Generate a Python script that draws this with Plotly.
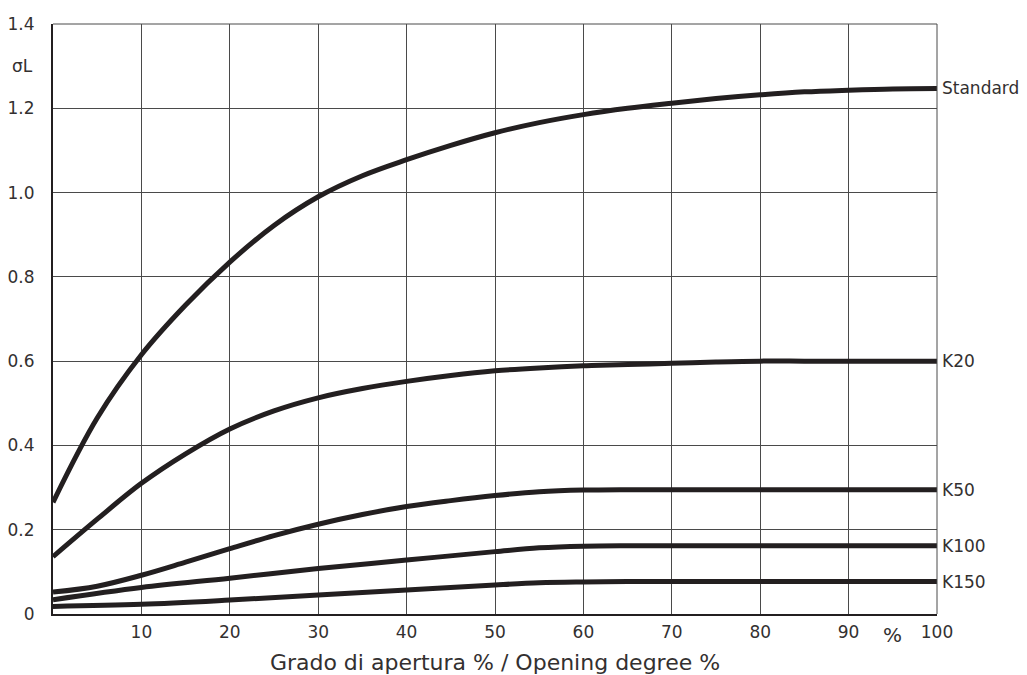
import plotly.graph_objects as go

# Data
x_std = [0, 5, 10, 15, 20, 25, 30, 35, 40, 45, 50, 55, 60, 65, 70, 75, 80, 85, 90, 95, 100]
y_std = [0.265, 0.465, 0.615, 0.733, 0.835, 0.922, 0.99, 1.04, 1.078, 1.112, 1.142, 1.166, 1.185, 1.2, 1.212, 1.223, 1.232, 1.239, 1.243, 1.246, 1.247]

x_k20 = [0, 5, 10, 15, 20, 25, 30, 35, 40, 45, 50, 55, 60, 65, 70, 75, 80, 85, 90, 95, 100]
y_k20 = [0.136, 0.225, 0.31, 0.38, 0.439, 0.482, 0.513, 0.535, 0.552, 0.566, 0.577, 0.584, 0.589, 0.592, 0.595, 0.598, 0.6, 0.6, 0.6, 0.6, 0.6]

x_k50 = [0, 5, 10, 15, 20, 25, 30, 35, 40, 45, 50, 55, 60, 65, 70, 80, 90, 100]
y_k50 = [0.052, 0.066, 0.092, 0.123, 0.155, 0.186, 0.213, 0.236, 0.255, 0.269, 0.281, 0.290, 0.294, 0.295, 0.295, 0.295, 0.295, 0.295]

x_k100 = [0, 10, 20, 30, 40, 50, 55, 60, 65, 70, 80, 90, 100]
y_k100 = [0.034, 0.063, 0.085, 0.108, 0.128, 0.148, 0.157, 0.161, 0.162, 0.162, 0.162, 0.162, 0.162]

x_k150 = [0, 10, 20, 30, 40, 50, 55, 60, 65, 70, 80, 90, 100]
y_k150 = [0.018, 0.023, 0.033, 0.045, 0.057, 0.069, 0.074, 0.076, 0.077, 0.077, 0.077, 0.077, 0.077]

series = [
    ("Standard", x_std, y_std),
    ("K20", x_k20, y_k20),
    ("K50", x_k50, y_k50),
    ("K100", x_k100, y_k100),
    ("K150", x_k150, y_k150),
]

x_tickvals = [10, 20, 30, 40, 50, 60, 70, 80, 90, 100]
x_ticktext = ["10", "20", "30", "40", "50", "60", "70", "80", "90", "100"]
y_tickvals = [0, 0.2, 0.4, 0.6, 0.8, 1.0, 1.2, 1.4]
y_ticktext = ["0", "0.2", "0.4", "0.6", "0.8", "1.0", "1.2", "1.4"]

FONT = "DejaVu Sans, sans-serif"
TXT = "#333030"
LINE = "#231f20"
GRID = "#4a4a4a"

fig = go.Figure()
for name, xs, ys in series:
    fig.add_trace(go.Scatter(
        x=xs, y=ys, mode="lines", name=name,
        line=dict(color=LINE, width=5, shape="spline", smoothing=1.0),
        showlegend=False, cliponaxis=False,
    ))
    fig.add_annotation(
        x=100, y=ys[-1], text=name, showarrow=False,
        xanchor="left", yanchor="middle", xshift=3,
        font=dict(family=FONT, size=17, color=TXT),
    )

fig.add_annotation(x=95, y=0, text="%", showarrow=False, yanchor="top", yshift=-7,
                   font=dict(family=FONT, size=20, color=TXT))
fig.add_annotation(x=0, y=1.3, text="σL", showarrow=False, xanchor="right",
                   xshift=-18, font=dict(family=FONT, size=17, color=TXT))

fig.update_layout(
    width=1019, height=667,
    margin=dict(l=45, r=90, t=16, b=61, autoexpand=False),
    paper_bgcolor="white", plot_bgcolor="white",
    font=dict(family=FONT, size=16, color=TXT),
    xaxis=dict(
        range=[0, 100], tickvals=x_tickvals, ticktext=x_ticktext,
        showgrid=True, gridcolor=GRID, gridwidth=1,
        showline=True, linecolor=LINE, linewidth=2, mirror=False,
        zeroline=False, ticks="", ticklen=0, automargin=False,
        ticklabelstandoff=2, tickfont=dict(size=17),
        title=dict(text="Grado di apertura % / Opening degree %",
                   font=dict(family=FONT, size=22, color=TXT), standoff=14),
    ),
    yaxis=dict(
        range=[0, 1.4], tickvals=y_tickvals, ticktext=y_ticktext,
        showgrid=True, gridcolor=GRID, gridwidth=1,
        showline=True, linecolor=LINE, linewidth=2, mirror=False,
        zeroline=False, ticks="", ticklabelstandoff=13, automargin=False,
        tickfont=dict(size=17),
    ),
    shapes=[
        dict(type="line", xref="paper", yref="paper", x0=0, x1=1, y0=1, y1=1,
             line=dict(color=GRID, width=1)),
        dict(type="line", xref="paper", yref="paper", x0=1, x1=1, y0=0, y1=1,
             line=dict(color=GRID, width=1)),
    ],
)

fig.write_html("out.html")
